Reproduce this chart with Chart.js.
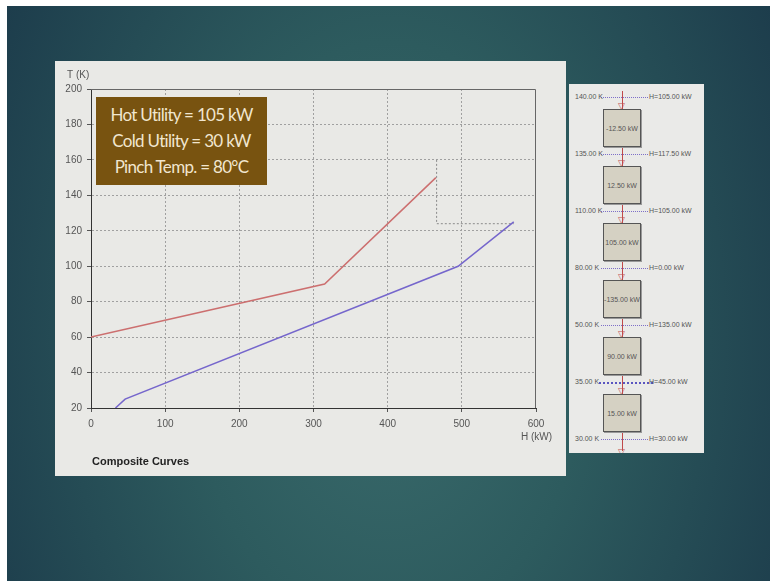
<!DOCTYPE html>
<html>
<head>
<meta charset="utf-8">
<script src="https://cdn.jsdelivr.net/npm/chart.js@4.4.0/dist/chart.umd.min.js"></script>
<style>
  html, body { margin: 0; padding: 0; background: #fff; width: 770px; height: 581px; overflow: hidden; }
  #slide {
    position: absolute; left: 7px; top: 6px; width: 763px; height: 575px; overflow: hidden;
    background: radial-gradient(ellipse 58% 115% at 50% 58%, #3a6b6c 0%, #2d5b5e 45%, #1d3d4c 100%);
  }
  #panel { position: absolute; left: 48px; top: 55px; width: 511px; height: 415px; background: #e9e9e6; }
  #cc { position: absolute; left: 0; top: 0; }
  #util {
    position: absolute; left: 41px; top: 36px; width: 171px; height: 88px; box-sizing: border-box;
    background: #785310; color: #f1e6cf; text-align: center; padding-top: 5px;
    font: 17px Lato, "Open Sans", sans-serif; letter-spacing: -0.7px; line-height: 26px;
  }
  #caption { position: absolute; left: 37px; top: 394px; font: bold 11px "Liberation Sans", Arial, sans-serif; color: #222; }
  #cascade {
    position: absolute; left: 562px; top: 78px; width: 135px; height: 369px; overflow: hidden;
    background: #eaeae8; padding-top: 7px; box-sizing: border-box;
    font: 7px "Liberation Sans", Arial, sans-serif; color: #555;
  }
  .lvl { position: relative; height: 12px; }
  .lvl .tl { position: absolute; left: 6px; top: 0; line-height: 12px; }
  .lvl .hl { position: absolute; left: 80px; top: 0; line-height: 12px; }
  .lvl .dots { position: absolute; left: 32px; width: 47px; top: 6px; border-top: 1px dotted #7e6fc8; }
  .lvl.blue .dots { border-top: 2px dotted #5a55c0; left: 30px; width: 54px; }
  .stem { position: absolute; left: 53px; top: 0; bottom: 0; width: 1px; background: #c04a4a; }
  .blk { position: relative; height: 45px; }
  .arr { position: absolute; left: 49px; top: -1px; color: #c05050; font-size: 9px; line-height: 8px; }
  .box {
    position: absolute; left: 34px; top: 6px; width: 38px; height: 38px; box-sizing: border-box;
    border: 1px solid #555; background: #d5d1c3; box-shadow: 1px 1px 0 #999;
    display: flex; align-items: center; justify-content: center; white-space: nowrap;
  }
  .tail { position: relative; height: 10px; }
  .tail .arr { top: 3px; }
</style>
</head>
<body>
<div id="slide">
  <div id="panel">
    <canvas id="cc" width="511" height="415"></canvas>
    <div id="util">Hot Utility = 105 kW<br>Cold Utility = 30 kW<br>Pinch Temp. = 80°C</div>
    <div id="caption">Composite Curves</div>
  </div>
  <div id="cascade"></div>
</div>
<script>
// composite curves (H in kW, T in K)
const hotH = [0, 315, 465];
const hotT = [60, 90, 150];
const coldH = [33, 46, 495, 570];
const coldT = [20, 25, 100, 125];
const utilH = [466, 466, 570];
const utilT = [160, 124, 124];

// heat cascade
const cascadeTemps = [140, 135, 110, 80, 50, 35, 30];
const cascadeHeat = [105, 117.5, 105, 0, 135, 45, 30];
const cascadeBoxes = [-12.5, 12.5, 105, -135, 90, 15];

const pts = (xs, ys) => xs.map((x, i) => ({x: x, y: ys[i]}));

const frameAndTitles = {
  id: 'frameAndTitles',
  beforeDatasetsDraw(chart) {
    const {ctx, chartArea: a} = chart;
    ctx.save();
    ctx.strokeStyle = '#666';
    ctx.lineWidth = 1;
    ctx.beginPath();
    ctx.moveTo(a.left, a.top + 0.5);
    ctx.lineTo(a.right - 0.5, a.top + 0.5);
    ctx.lineTo(a.right - 0.5, a.bottom);
    ctx.stroke();
    ctx.restore();
  },
  afterDraw(chart) {
    const {ctx, chartArea: a} = chart;
    ctx.save();
    ctx.fillStyle = '#555';
    ctx.font = '10px "Liberation Sans", Arial';
    ctx.textBaseline = 'middle';
    ctx.textAlign = 'left';
    ctx.fillText('T (K)', a.left - 24, a.top - 14);
    ctx.textAlign = 'right';
    ctx.fillText('H (kW)', a.right + 16, a.bottom + 29);
    ctx.restore();
  }
};

const edgeless = (c) => (c.index === 0 || c.index === c.scale.ticks.length - 1) ? 'rgba(0,0,0,0)' : '#a0a0a0';

Chart.defaults.font.family = '"Liberation Sans", Arial, sans-serif';
Chart.defaults.font.size = 10;
Chart.defaults.color = '#555';

new Chart(document.getElementById('cc').getContext('2d'), {
  type: 'scatter',
  data: {
    datasets: [{
      label: 'Hot',
      data: pts(hotH, hotT),
      showLine: true,
      borderColor: '#cc6f6f',
      borderWidth: 1.5,
      pointRadius: 0
    }, {
      label: 'Cold',
      data: pts(coldH, coldT),
      showLine: true,
      borderColor: '#7566cc',
      borderWidth: 1.5,
      pointRadius: 0
    }, {
      label: 'Utility',
      data: pts(utilH, utilT),
      showLine: true,
      borderColor: '#8a8a8a',
      borderWidth: 1,
      borderDash: [2, 2],
      pointRadius: 0
    }]
  },
  options: {
    responsive: false,
    animation: false,
    devicePixelRatio: 1,
    layout: { padding: { top: 28, right: 30, left: 0, bottom: 0 } },
    scales: {
      x: {
        type: 'linear',
        min: 0, max: 600,
        ticks: { stepSize: 100, padding: 6 },
        grid: { color: edgeless, tickColor: '#555', tickLength: 4 },
        border: { color: '#333', dash: [2, 2] },
        afterFit(s) { s.height = 68; }
      },
      y: {
        min: 20, max: 200,
        ticks: { stepSize: 20, padding: 5 },
        grid: { color: edgeless, tickColor: '#555', tickLength: 4 },
        border: { color: '#333', dash: [2, 2] },
        afterFit(s) { s.width = 36; }
      }
    },
    plugins: {
      legend: { display: false },
      tooltip: { enabled: false }
    }
  },
  plugins: [frameAndTitles]
});

// cascade diagram
const cas = document.getElementById('cascade');
cascadeTemps.forEach((t, i) => {
  const row = document.createElement('div');
  row.className = 'lvl' + (t === 35 ? ' blue' : '');
  row.innerHTML = '<div class="stem"></div><span class="dots"></span>' +
    '<span class="tl">' + t.toFixed(2) + ' K</span>' +
    '<span class="hl">H=' + cascadeHeat[i].toFixed(2) + ' kW</span>';
  cas.appendChild(row);
  if (i < cascadeBoxes.length) {
    const blk = document.createElement('div');
    blk.className = 'blk';
    blk.innerHTML = '<div class="stem"></div><div class="arr">▽</div>' +
      '<div class="box">' + cascadeBoxes[i].toFixed(2) + ' kW</div>';
    cas.appendChild(blk);
  }
});
const tail = document.createElement('div');
tail.className = 'tail';
tail.innerHTML = '<div class="stem" style="bottom:4px"></div><div class="arr">▽</div>';
cas.appendChild(tail);
</script>
</body>
</html>
